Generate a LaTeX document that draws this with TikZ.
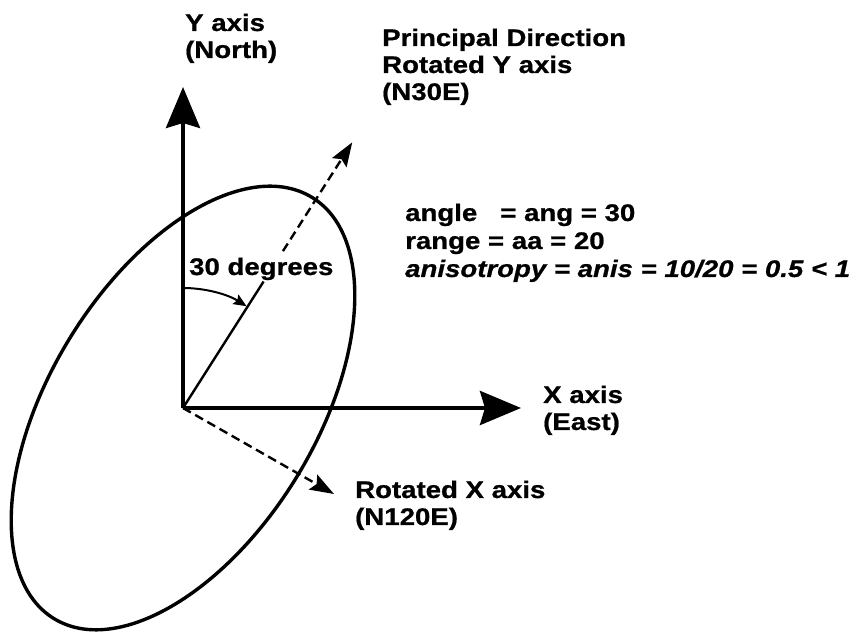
\documentclass[tikz,border=0pt]{standalone}
\usepackage{fontspec}
\newfontfamily\lab{Liberation Sans}[FakeStretch=1.15,FakeBold=0.8]
\usetikzlibrary{arrows.meta,calc}
\begin{document}
\begin{tikzpicture}[x=1pt,y=1pt,
  lbl/.style={anchor=base west,inner sep=0pt,font=\lab\bfseries\fontsize{24}{27}\selectfont},
  axisline/.style={line width=4pt,-{Stealth[length=41pt,width=34pt,inset=5pt]}},
  dashline/.style={line width=2.4pt,dash pattern=on 9pt off 5pt},
  smallhead/.style={-{Stealth[length=24pt,width=17pt,inset=4pt]}},
  arcline/.style={line width=2pt,-{Stealth[length=13pt,width=11pt,inset=2pt]}}]
\useasboundingbox (0,0) rectangle (862,634);
% named points
\coordinate (O) at (183,226);
\coordinate (Ytip) at (183,547);
\coordinate (Xtip) at (521,226);
\coordinate (Psolid) at ($(O)+(57.5:150)$);
\coordinate (Pdash) at ($(O)+(57.5:186)$);
\coordinate (Ptip) at ($(O)+(57.5:315)$);
\coordinate (RXtip) at (334,140);
\coordinate (ArcA) at ($(O)+(90:120)$);
\coordinate (ArcB) at ($(O)+(58:120)$);
% ellipse
\draw[line width=3.4pt,rotate around={58.5:(O)}] (O) ellipse [x radius=247,y radius=133];
% axes
\draw[axisline] (O) -- (Ytip);
\draw[axisline] (O) -- (Xtip);
% principal direction
\draw[line width=2.4pt] (O) -- (Psolid);
\draw[dashline,smallhead] (Pdash) -- (Ptip);
% rotated X axis
\draw[dashline,smallhead] (O) -- (RXtip);
% angle arc
\draw[arcline] (ArcA) arc[start angle=90,end angle=58,radius=120];
% labels
\node[lbl] (ylab1) at (185,603) {Y axis};
\node[lbl] (ylab2) at (185,576) {(North)};
\node[lbl] (plab1) at (382,588) {Principal Direction};
\node[lbl] (plab2) at (382,561) {Rotated Y axis};
\node[lbl] (plab3) at (382,534) {(N30E)};
\node[lbl] (t1) at (405,413) {angle\ \ \ = ang = 30};
\node[lbl] (t2) at (405,385) {range = aa = 20};
\node[lbl,font=\lab\bfseries\itshape\fontsize{24}{27}\selectfont] (t3) at (405,357) {anisotropy = anis = 10/20 = 0.5 < 1};
\node[lbl] (deg) at (189,359) {30 degrees};
\node[lbl] (xlab1) at (543,231) {X axis};
\node[lbl] (xlab2) at (543,204) {(East)};
\node[lbl] (rxlab1) at (355,136) {Rotated X axis};
\node[lbl] (rxlab2) at (355,109) {(N120E)};
\end{tikzpicture}
\end{document}
